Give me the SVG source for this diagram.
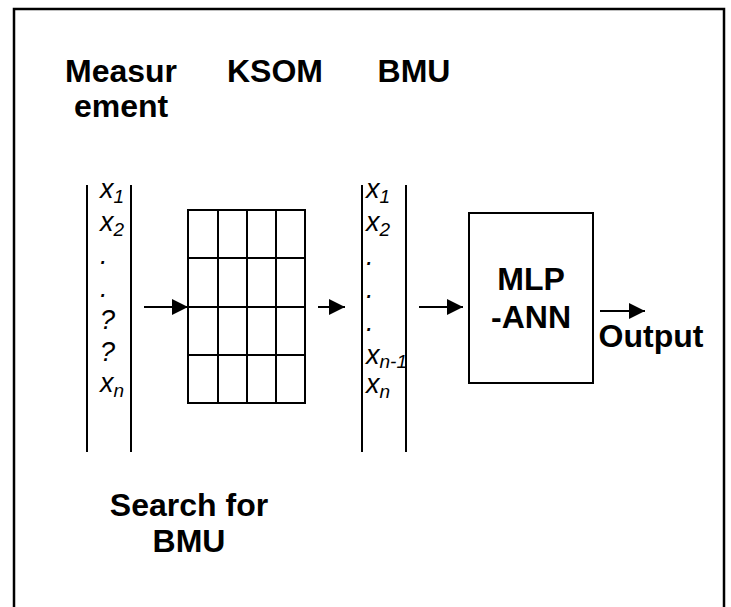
<svg xmlns="http://www.w3.org/2000/svg" width="731" height="607" viewBox="0 0 731 607">
<defs>
<style>
.ln{stroke:#000;stroke-width:2;fill:none}
.hd{font-family:"Liberation Sans",Arial,sans-serif;font-weight:bold;font-size:32px;fill:#000;text-anchor:middle}
.it{font-family:"Liberation Sans",Arial,sans-serif;font-style:italic;font-size:27px;fill:#000}
.sb{font-size:19px}
</style>
<marker id="ah" markerUnits="userSpaceOnUse" markerWidth="17" markerHeight="16" refX="16" refY="8" orient="auto">
<path d="M0,0 L16,8 L0,16 Z" fill="#000"/>
</marker>
</defs>
<rect x="14" y="9" width="710" height="620" fill="#fff" stroke="#000" stroke-width="2.5"/>
<g id="headers">
<text class="hd" x="121" y="82">Measur</text>
<text class="hd" x="121" y="117">ement</text>
<text class="hd" x="275" y="82">KSOM</text>
<text class="hd" x="414" y="82">BMU</text>
</g>
<g id="measurement">
<line class="ln" x1="87" y1="185" x2="87" y2="452"/>
<line class="ln" x1="131" y1="185" x2="131" y2="452"/>
<text class="it" x="100" y="198">x<tspan class="sb" dy="5">1</tspan></text>
<text class="it" x="100" y="231">x<tspan class="sb" dy="5">2</tspan></text>
<text class="it" x="100" y="264">.</text>
<text class="it" x="100" y="297">.</text>
<text class="it" x="100" y="329">?</text>
<text class="it" x="100" y="361">?</text>
<text class="it" x="100" y="392">x<tspan class="sb" dy="5">n</tspan></text>
</g>
<g id="ksom">
<rect class="ln" x="188" y="210" width="117" height="193"/>
<path class="ln" d="M218,210V403M247,210V403M276,210V403M188,258H305M188,307H305M188,355H305"/>
</g>
<g id="bmu">
<line class="ln" x1="362" y1="185" x2="362" y2="452"/>
<line class="ln" x1="406" y1="185" x2="406" y2="452"/>
<text class="it" x="366" y="198">x<tspan class="sb" dy="5">1</tspan></text>
<text class="it" x="366" y="231">x<tspan class="sb" dy="5">2</tspan></text>
<text class="it" x="366" y="265">.</text>
<text class="it" x="366" y="298">.</text>
<text class="it" x="366" y="331">.</text>
<text class="it" x="366" y="364">x<tspan class="sb" dy="4">n-1</tspan></text>
<text class="it" x="366" y="393">x<tspan class="sb" dy="5">n</tspan></text>
</g>
<g id="mlp">
<rect class="ln" x="469" y="213" width="124" height="170"/>
<text class="hd" x="531" y="290">MLP</text>
<text class="hd" x="531" y="328">-ANN</text>
</g>
<g id="output">
<text class="hd" x="651" y="347">Output</text>
</g>
<g id="search">
<text class="hd" x="189" y="516">Search for</text>
<text class="hd" x="189" y="552">BMU</text>
</g>
<g id="connectors">
<line class="ln" x1="144" y1="307" x2="188" y2="307" marker-end="url(#ah)"/>
<line class="ln" x1="318" y1="307" x2="345" y2="307" marker-end="url(#ah)"/>
<line class="ln" x1="419" y1="307" x2="463" y2="307" marker-end="url(#ah)"/>
<line class="ln" x1="600" y1="311" x2="645" y2="311" marker-end="url(#ah)"/>
</g>
</svg>
